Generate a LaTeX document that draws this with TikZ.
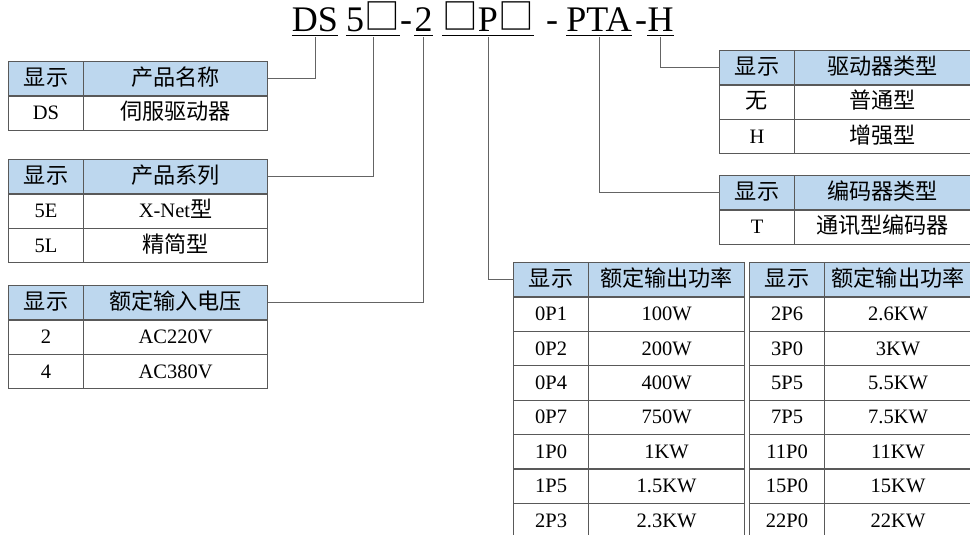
\documentclass[tikz,border=0pt]{standalone}
\usepackage{fontspec}
\setmainfont{Liberation Serif}
\newfontfamily\cjk[Scale=1.08]{Noto Sans CJK SC}
\usepackage{tikz}
\usetikzlibrary{positioning, matrix}
\definecolor{hdrblue}{RGB}{189,215,238}
\definecolor{rulegray}{RGB}{89,89,89}
\definecolor{linkgray}{RGB}{100,100,100}
\newcommand{\blank}{\raisebox{2.5pt}{\cjk\fontsize{33}{33}\selectfont □}}

\begin{document}
\begin{tikzpicture}[x=1pt, y=-1pt,
  part/.style={inner sep=0pt, anchor=base, font=\fontsize{36}{36}\selectfont},
  uline/.style={line width=1.6pt},
  link/.style={draw=linkgray, line width=0.9pt},
  tbl/.style={matrix of nodes, anchor=north west, inner sep=0pt, outer sep=0pt,
    column sep=-1.1pt, row sep=-1.1pt,
    nodes={draw=rulegray, line width=1.1pt, minimum height=34.4pt, text height=16pt, text depth=3pt,
      inner sep=0pt, font=\fontsize{20.5}{20.5}\selectfont},
    row 1/.style={nodes={fill=hdrblue}},
    column 1/.style={nodes={minimum width=75pt}}}]
  \useasboundingbox (0,0) rectangle (970,535);
  \clip (0,0) rectangle (970,535);

  % model code
  \node[part] (DS)  at (315,32)   {DS};
  \node[part] (S5)  at (373,32)   {5\blank};
  \node[part] (d1)  at (406,32)   {-};
  \node[part] (V2)  at (423.5,32) {2};
  \node[part] (PW)  at (488,32)   {\blank P\blank};
  \node[part] (d2)  at (552,32)   {-};
  \node[part] (PTA) at (599,32)   {PTA};
  \node[part] (d3)  at (641,32)   {-};
  \node[part] (H)   at (660.5,32) {H};

  \draw[uline] ([yshift=-3.5pt]DS.base west)  -- ([yshift=-3.5pt]DS.base east);
  \draw[uline] ([yshift=-3.5pt]S5.base west)  -- ([yshift=-3.5pt]S5.base east);
  \draw[uline] ([yshift=-3.5pt]V2.base west)  -- ([yshift=-3.5pt]V2.base east);
  \draw[uline] ([yshift=-3.5pt]PW.base west)  -- ([yshift=-3.5pt]PW.base east);
  \draw[uline] ([yshift=-3.5pt]PTA.base west) -- ([yshift=-3.5pt]PTA.base east);
  \draw[uline] ([yshift=-3.5pt]H.base west)   -- ([yshift=-3.5pt]H.base east);

  % tables
  \matrix[tbl, column 2/.style={nodes={minimum width=184pt}}] (tDS) at (8,61) {
    \cjk 显示 & \cjk 产品名称 \\
    DS & \cjk 伺服驱动器 \\
  };
  \matrix[tbl, column 2/.style={nodes={minimum width=184pt}}] (tS5) at (8,159) {
    \cjk 显示 & \cjk 产品系列 \\
    5E & X-Net{\cjk 型} \\
    5L & \cjk 精简型 \\
  };
  \matrix[tbl, column 2/.style={nodes={minimum width=184pt}}] (tV2) at (8,285) {
    \cjk 显示 & \cjk 额定输入电压 \\
    2 & AC220V \\
    4 & AC380V \\
  };
  \matrix[tbl, column 2/.style={nodes={minimum width=176pt}}] (tH) at (719,50) {
    \cjk 显示 & \cjk 驱动器类型 \\
    \cjk 无 & \cjk 普通型 \\
    H & \cjk 增强型 \\
  };
  \matrix[tbl, column 2/.style={nodes={minimum width=176pt}}] (tPTA) at (719,175) {
    \cjk 显示 & \cjk 编码器类型 \\
    T & \cjk 通讯型编码器 \\
  };
  \matrix[tbl, column 2/.style={nodes={minimum width=156pt}}] (tPW) at (513,262) {
    \cjk 显示 & \cjk 额定输出功率 \\
    0P1 & 100W \\
    0P2 & 200W \\
    0P4 & 400W \\
    0P7 & 750W \\
    1P0 & 1KW \\
    1P5 & 1.5KW \\
    2P3 & 2.3KW \\
  };
  \matrix[tbl, column 2/.style={nodes={minimum width=147pt}}] (tPW2) at (749,262) {
    \cjk 显示 & \cjk 额定输出功率 \\
    2P6 & 2.6KW \\
    3P0 & 3KW \\
    5P5 & 5.5KW \\
    7P5 & 7.5KW \\
    11P0 & 11KW \\
    15P0 & 15KW \\
    22P0 & 22KW \\
  };

  % connectors
  \draw[link] ([yshift=-5pt]DS.base)  |- (tDS-1-2.east);
  \draw[link] ([yshift=-5pt]S5.base)  |- (tS5-1-2.east);
  \draw[link] ([yshift=-5pt]V2.base)  |- (tV2-1-2.east);
  \draw[link] ([yshift=-5pt]PW.base)  |- (tPW-1-1.west);
  \draw[link] ([yshift=-5pt]PTA.base) |- (tPTA-1-1.west);
  \draw[link] ([yshift=-5pt]H.base)   |- (tH-1-1.west);
\end{tikzpicture}
\end{document}
